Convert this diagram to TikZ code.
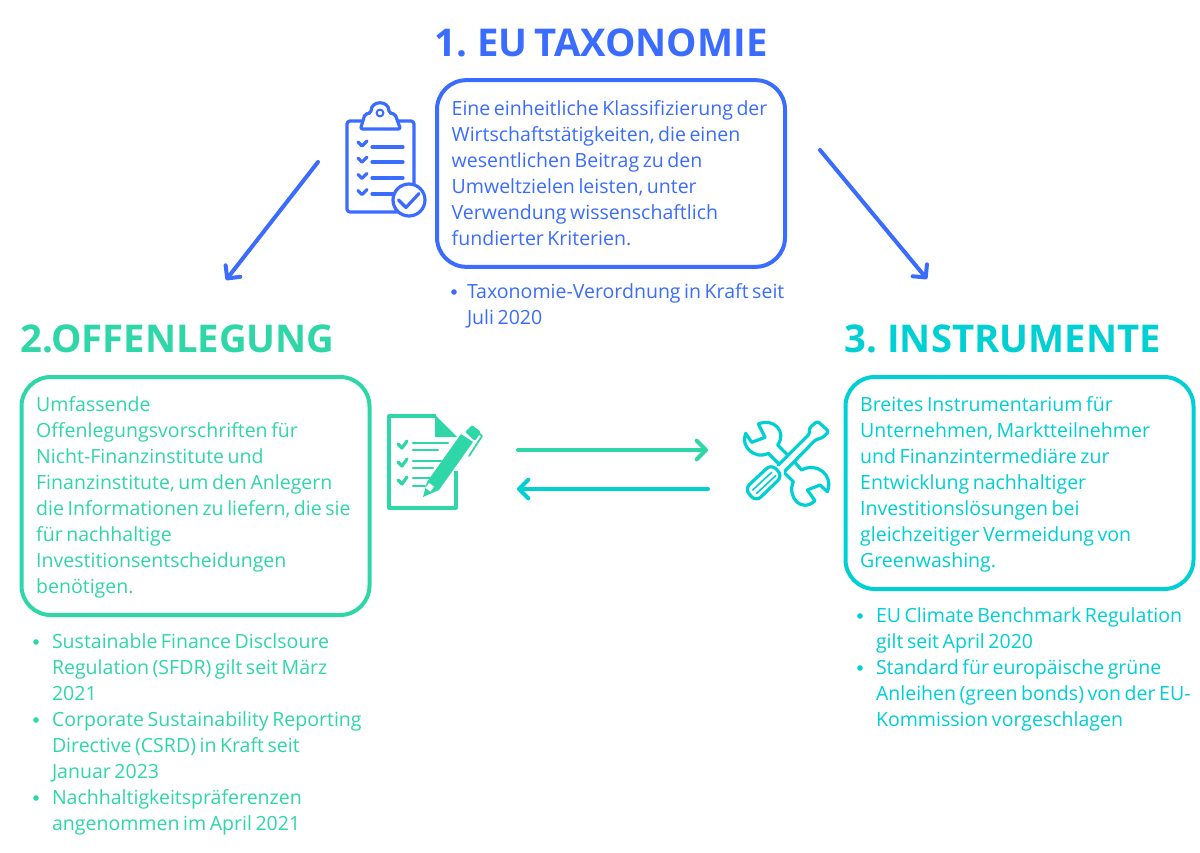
\documentclass[tikz,border=0pt]{standalone}
\usepackage{fontspec}
\setmainfont{Open Sans}
\newfontfamily\bodyfam{Open Sans}
\newfontfamily\headfam[WordSpace=0.7]{Open Sans}
\usetikzlibrary{arrows.meta}
\definecolor{cblue}{HTML}{3A6CFF}
\definecolor{cgreen}{HTML}{2FD6A8}
\definecolor{ccyan}{HTML}{00CFD3}
\tikzset{
 x=0.75pt,y=-0.75pt,
 body/.style={font=\bodyfam\fontsize{14.65pt}{19.5pt}\selectfont,align=flush left,inner sep=0pt,outer sep=0pt},
 listtext/.style={body,anchor=north west},
 heading/.style={font=\headfam\fontsize{28.7pt}{32pt}\selectfont\bfseries,inner sep=0pt,anchor=base west},
 panel/.style={body,draw,line width=3pt,rounded corners=22pt,inner xsep=11pt,inner ysep=0pt,
   minimum width=261pt,text width=239pt},
 dot/.style={circle,fill,inner sep=0pt,minimum size=4.2pt},
 flow/.style={line width=3pt,line cap=round,-{Straight Barb[length=7pt,width=14pt,line width=3pt,round]}},
 icon/.style={line width=2.4pt,line cap=round,line join=round},
}
\begin{document}
\begin{tikzpicture}
\useasboundingbox (0,0) rectangle (1200,853);
% headings
\node[heading,text=cblue] (h1) at (434,56) {1. EU TAXONOMIE};
\node[heading,text=cgreen] (h2) at (20,352.5) {2.OFFENLEGUNG};
\node[heading,text=ccyan] (h3) at (844,352.5) {3. INSTRUMENTE};
% panels
\node[panel,draw=cblue,text=cblue,minimum height=140pt] (p1) at (611,173.5) {\rule{0pt}{16pt}\mbox{Eine einheitliche Klassifizierung der}\\Wirtschaftstätigkeiten, die einen\\wesentlichen Beitrag zu den\\Umweltzielen leisten, unter\\Verwendung wissenschaftlich\\fundierter Kriterien.\strut};
\node[panel,draw=cgreen,text=cgreen,minimum height=178.5pt] (p2) at (195.5,496) {\rule{0pt}{16pt}Umfassende\\Offenlegungsvorschriften für\\Nicht-Finanzinstitute und\\Finanzinstitute, um den Anlegern\\\mbox{die Informationen zu liefern, die sie}\\für nachhaltige\\Investitionsentscheidungen\\benötigen.\strut};
\node[panel,draw=ccyan,text=ccyan,minimum height=159pt] (p3) at (1019.5,483) {\rule{0pt}{16pt}Breites Instrumentarium für\\Unternehmen, Marktteilnehmer\\und Finanzintermediäre zur\\Entwicklung nachhaltiger\\Investitionslösungen bei\\gleichzeitiger Vermeidung von\\Greenwashing.\strut};
% bullet lists
\node[dot,fill=cblue] (b11) at (454,292) {};
\node[listtext,text=cblue] (l1) at (467,280) {\strut Taxonomie-Verordnung in Kraft seit\\Juli 2020\strut};
\node[dot,fill=cgreen] (b21) at (36,642) {};
\node[dot,fill=cgreen] (b22) at (36,720) {};
\node[dot,fill=cgreen] (b23) at (36,798) {};
\node[listtext,text=cgreen] (l2) at (52,630) {\strut Sustainable Finance Disclsoure\\Regulation (SFDR) gilt seit März\\2021\\Corporate Sustainability Reporting\\Directive (CSRD) in Kraft seit\\Januar 2023\\Nachhaltigkeitspräferenzen\\angenommen im April 2021\strut};
\node[dot,fill=ccyan] (b31) at (860,616) {};
\node[dot,fill=ccyan] (b32) at (860,668) {};
\node[listtext,text=ccyan] (l3) at (876,604) {\strut EU Climate Benchmark Regulation\\gilt seit April 2020\\Standard für europäische grüne\\Anleihen (green bonds) von der EU-\\Kommission vorgeschlagen\strut};
% arrows
\coordinate (a1s) at (318,162); \coordinate (a1e) at (226,280);
\coordinate (a2s) at (820,150); \coordinate (a2e) at (927,279);
\coordinate (a3s) at (518,450); \coordinate (a3e) at (708,450);
\coordinate (a4s) at (708,489); \coordinate (a4e) at (517,489);
\draw[flow,cblue] (a1s) -- (a1e);
\draw[flow,cblue] (a2s) -- (a2e);
\draw[flow,cgreen] (a3s) -- (a3e);
\draw[flow,ccyan] (a4s) -- (a4e);
% clipboard icon
\begin{scope}[icon,draw=cblue]
\draw[rounded corners=2.2pt] (347,121) rectangle (414,212);
\draw[fill=white,rounded corners=1.5pt] (360.5,129) -- (365,114) -- (371,113) .. controls (371,100) and (389,100) .. (389,113) -- (395,114) -- (400.5,129) -- cycle;
\draw[line width=1.5pt] (380,113) circle (3.4);
\foreach \y in {0,1,2,3}{
 \draw (358,142+16.2*\y) -- (362,146+16.2*\y) -- (367,141+16.2*\y);
}
\foreach \y/\e in {147/403,162/403,178/403,194/394}{
 \draw (372,\y) -- (\e,\y);
}
\draw[fill=white] (409,200) circle (16);
\draw (398.5,200) -- (406,207.5) -- (419,193.5);
\end{scope}
% document icon
\begin{scope}[icon,draw=cgreen]
\draw[line cap=butt] (436,416) -- (389,416) -- (389,508) -- (456,508) -- (456,471);
\fill[cgreen] (435,415) -- (457,437) -- (435,437) -- cycle;
\foreach \y in {0,18,36}{
 \draw (398,444+\y) -- (402,448+\y) -- (407,441+\y);
}
\draw[line width=1.7pt] (413,443) -- (448,443);
\draw[line width=1.7pt] (413,450) -- (438,450);
\draw[line width=1.7pt] (413,461) -- (441,461);
\draw[line width=1.7pt] (413,468) -- (433,468);
\draw[line width=1.7pt] (413,478) -- (432,478);
\draw[line width=1.7pt] (413,486) -- (425,486);
\fill[cgreen] (423,497) -- (427,482) -- (461,434) -- (473,442) -- (439,490) -- cycle;
\fill[white] (425.5,488) -- (429,483) -- (434,486.5) -- (430.5,491.5) -- cycle;
\fill[cgreen,rounded corners=1pt] (465,432) -- (472,425) -- (481,432) -- (475,441) -- cycle;
\draw[line width=1.3pt] (476,431) -- (482,436) -- (469,456);
\end{scope}
% tools icon
\begin{scope}[shift={(730,410)},x=0.25pt,y=-0.25pt,icon,draw=ccyan]
\draw (85,42) .. controls (130,22) and (172,65) .. (143,105) -- (190,152);
\draw (85,42) -- (105,82) -- (65,97) -- (47,70) .. controls (30,110) and (75,150) .. (115,130) -- (150,165);
\draw (165,190) -- (190,215) .. controls (170,262) and (215,310) .. (255,272) -- (232,240) -- (270,225) -- (292,245) .. controls (312,195) and (260,155) .. (215,180) -- (190,152);
\draw[fill=white,rounded corners=2pt] (145,165) -- (240,70) -- (237,55) -- (262,33) -- (297,65) -- (275,85) -- (258,88) -- (165,183);
\draw[fill=white,rounded corners=5pt] (124,162) -- (158,198) -- (78,275) -- (44,237) -- cycle;
\draw[line width=1.2pt] (68,240) -- (125,187);
\draw[line width=1.2pt] (80,250) -- (137,197);
\end{scope}
\end{tikzpicture}
\end{document}
